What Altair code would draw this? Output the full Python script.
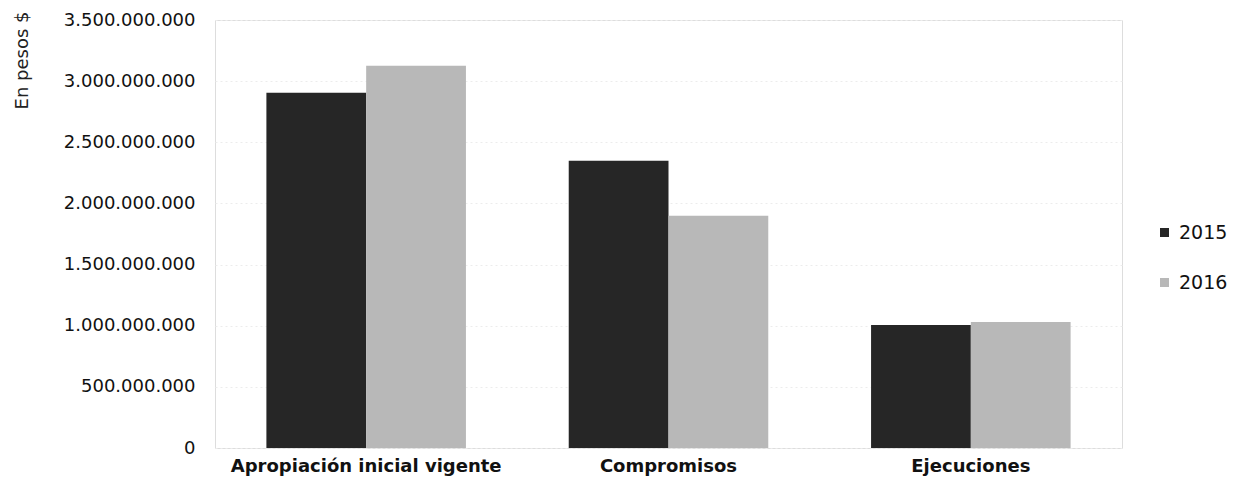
import altair as alt
import pandas as pd

categories = ["Apropiación inicial vigente", "Compromisos", "Ejecuciones"]
series = ["2015", "2016"]
values_2015 = [2905000000, 2350000000, 1005000000]
values_2016 = [3125000000, 1900000000, 1030000000]
y_ticks = [0, 500000000, 1000000000, 1500000000, 2000000000, 2500000000, 3000000000, 3500000000]

rows = []
for c, a, b in zip(categories, values_2015, values_2016):
    rows.append({"categoria": c, "anio": "2015", "valor": a})
    rows.append({"categoria": c, "anio": "2016", "valor": b})
df = pd.DataFrame(rows)

chart = alt.Chart(df).mark_bar().encode(
    x=alt.X("categoria:N", sort=categories,
            scale=alt.Scale(paddingInner=0.34, paddingOuter=0.17),
            axis=alt.Axis(title=None, labelAngle=0, ticks=False, domain=False,
                          labelFont="DejaVu Sans", labelFontSize=18, labelFontWeight="bold",
                          labelColor="#111111", labelPadding=9, labelLimit=0)),
    xOffset=alt.XOffset("anio:N", sort=series, scale=alt.Scale(paddingInner=0, paddingOuter=0)),
    y=alt.Y("valor:Q", scale=alt.Scale(domain=[0, 3500000000], nice=False),
            axis=alt.Axis(values=y_ticks, title="En pesos $", ticks=False, domain=False,
                          labelExpr="replace(format(datum.value, ','), regexp(',', 'g'), '.')",
                          labelFont="DejaVu Sans", labelFontSize=18, labelColor="#111111",
                          labelPadding=20, grid=True, gridColor="#ececec", gridDash=[2, 3],
                          titleFont="DejaVu Sans", titleFontSize=18, titleFontWeight="normal",
                          titleColor="#222222", titleAngle=270, titleAlign="center",
                          titleBaseline="middle", titleX=-193, titleY=40)),
    color=alt.Color("anio:N", sort=series,
                    scale=alt.Scale(domain=series, range=["#262626", "#b8b8b8"]),
                    legend=alt.Legend(title=None, orient="none", legendX=940, legendY=203,
                                      symbolType="square", symbolSize=81, symbolStrokeWidth=0,
                                      labelFont="DejaVu Sans", labelFontSize=19,
                                      labelColor="#111111", labelOffset=5, rowPadding=30)),
).properties(
    width=907, height=428,
    autosize=alt.AutoSizeParams(type="none"),
    padding={"left": 207, "top": 12, "right": 113, "bottom": 31},
).configure_view(stroke=None).configure(background="white")

chart.save("out.html", embed_options={"renderer": "svg", "actions": False})
